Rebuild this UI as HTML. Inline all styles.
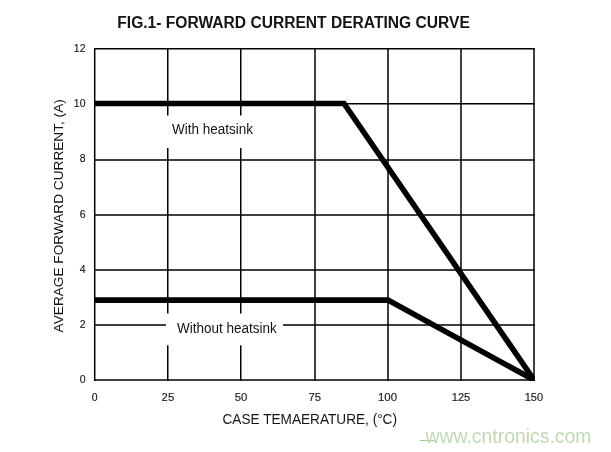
<!DOCTYPE html>
<html><head><meta charset="utf-8">
<style>
html,body{margin:0;padding:0;background:#fff;}
body{width:611px;height:452px;overflow:hidden;position:relative;}
svg{position:absolute;left:0;top:0;will-change:transform;}
text{font-family:"Liberation Sans",sans-serif;fill:#141414;}
</style></head><body>
<svg width="611" height="452" viewBox="0 0 611 452">
<defs><clipPath id="pa"><rect x="94" y="48" width="441" height="333"/></clipPath></defs>
<rect x="0" y="0" width="611" height="452" fill="#fff"/>
<!-- title -->
<text x="117.3" y="28" font-size="15.6" font-weight="bold" textLength="352.5" lengthAdjust="spacingAndGlyphs">FIG.1- FORWARD CURRENT DERATING CURVE</text>
<!-- grid -->
<g stroke="#000" stroke-width="1.5" fill="none">
<line x1="167.75" y1="48" x2="167.75" y2="381"/>
<line x1="240.75" y1="48" x2="240.75" y2="381"/>
<line x1="315" y1="48" x2="315" y2="381"/>
<line x1="388" y1="48" x2="388" y2="381"/>
<line x1="461" y1="48" x2="461" y2="381"/>
<line x1="94" y1="103.7" x2="535" y2="103.7"/>
<line x1="94" y1="160" x2="535" y2="160"/>
<line x1="94" y1="215" x2="535" y2="215"/>
<line x1="94" y1="270" x2="535" y2="270"/>
<line x1="94" y1="325" x2="535" y2="325"/>
<line x1="94" y1="48.7" x2="535" y2="48.7"/>
<line x1="94" y1="380" x2="535" y2="380"/>
<line x1="94.7" y1="48" x2="94.7" y2="381"/>
<line x1="534" y1="48" x2="534" y2="381"/>
</g>
<!-- label boxes -->
<rect x="160" y="115.5" width="105" height="32.5" fill="#fff"/>
<rect x="166" y="313.5" width="117" height="31.8" fill="#fff"/>
<!-- curves -->
<g clip-path="url(#pa)" stroke="#000" stroke-width="5.6" fill="none" stroke-linejoin="miter">
<polyline points="90,103.5 344,103.5 539.8,388.3"/>
<polyline points="90,300.1 388,300.1 540,383.3"/>
</g>
<!-- labels -->
<text x="172" y="134" font-size="14" textLength="81" lengthAdjust="spacingAndGlyphs">With heatsink</text>
<text x="177" y="333.2" font-size="14" textLength="99.8" lengthAdjust="spacingAndGlyphs">Without heatsink</text>
<!-- y ticks -->
<g font-size="10.5" text-anchor="end" style="stroke:#141414;stroke-width:0.12">
<text x="85.5" y="51.5">12</text>
<text x="85.5" y="106.6">10</text>
<text x="85.5" y="162">8</text>
<text x="85.5" y="217.5">6</text>
<text x="85.5" y="272.6">4</text>
<text x="85.5" y="327.5">2</text>
<text x="85.5" y="382.9">0</text>
</g>
<!-- x ticks -->
<g font-size="10.5" text-anchor="middle" style="stroke:#141414;stroke-width:0.12">
<text x="94.6" y="400.6">0</text>
<text x="167.9" y="400.6" textLength="12.6" lengthAdjust="spacingAndGlyphs">25</text>
<text x="241" y="400.6" textLength="12.6" lengthAdjust="spacingAndGlyphs">50</text>
<text x="314.8" y="400.6" textLength="12.6" lengthAdjust="spacingAndGlyphs">75</text>
<text x="387.5" y="400.6" textLength="19" lengthAdjust="spacingAndGlyphs">100</text>
<text x="461" y="400.6" textLength="18.5" lengthAdjust="spacingAndGlyphs">125</text>
<text x="533.9" y="400.6" textLength="18.5" lengthAdjust="spacingAndGlyphs">150</text>
</g>
<text x="222.5" y="424" font-size="14" textLength="174.5" lengthAdjust="spacingAndGlyphs">CASE TEMAERATURE, (°C)</text>
<text transform="translate(62.7,332.4) rotate(-90)" font-size="13.4" textLength="233.2" lengthAdjust="spacingAndGlyphs">AVERAGE FORWARD CURRENT, (A)</text>
<!-- watermark -->
<line x1="420" y1="440.5" x2="434" y2="440.5" stroke="#a9c49c" stroke-width="1"/>
<text x="425.5" y="442.8" font-size="20" textLength="166" lengthAdjust="spacingAndGlyphs" style="fill:#c0d8b6">www.cntronics.com</text>
</svg>
</body></html>
